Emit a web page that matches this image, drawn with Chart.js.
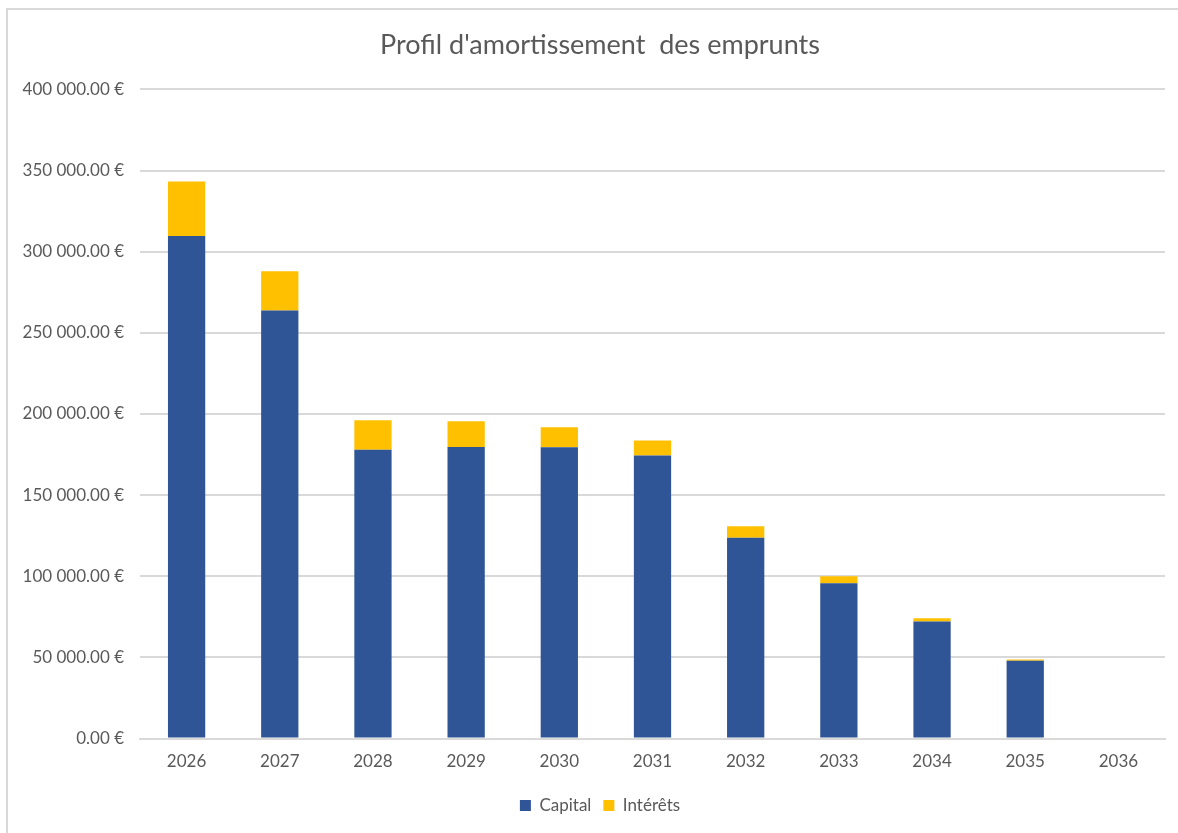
<!DOCTYPE html>
<html>
<head>
<meta charset="utf-8">
<script src="https://cdn.jsdelivr.net/npm/chart.js@4"></script>
<style>
  html, body { margin: 0; padding: 0; background: #fff; }
  #wrap { position: relative; width: 1178px; height: 833px; overflow: hidden; }
  #frame { position: absolute; left: 6px; top: 8px; width: 1300px; height: 900px;
           border-left: 2px solid #d9d9d9; border-top: 2px solid #d9d9d9; }
  canvas { position: absolute; left: 0; top: 0; }
</style>
</head>
<body>
<div id="wrap">
  <div id="frame"></div>
  <canvas id="c" width="1200" height="833"></canvas>
</div>
<script>
// Annual loan repayment schedule (EUR)
const years = ['2026', '2027', '2028', '2029', '2030', '2031', '2032', '2033', '2034', '2035', '2036'];
const capital = [309600, 263800, 177900, 179700, 179500, 174400, 123700, 95700, 72100, 47900, 0];
const interets = [33700, 24200, 18300, 15900, 12400, 9300, 7200, 4300, 2000, 800, 0];
const yTicks = [0, 50000, 100000, 150000, 200000, 250000, 300000, 350000, 400000];

const FONT = 'Lato, "Open Sans", sans-serif';
const GREY = '#595959';

function euro(v) {
  const parts = v.toFixed(2).split('.');
  const intPart = parts[0].replace(/\B(?=(\d{3})+(?!\d))/g, ' ');
  return intPart + '.' + parts[1] + ' €';
}

new Chart(document.getElementById('c'), {
  type: 'bar',
  data: {
    labels: years,
    datasets: [
      { label: 'Capital', data: capital, backgroundColor: '#2f5597',
        barPercentage: 0.4, categoryPercentage: 1.0 },
      { label: 'Intérêts', data: interets, backgroundColor: '#ffc000',
        barPercentage: 0.4, categoryPercentage: 1.0 }
    ]
  },
  options: {
    responsive: false,
    animation: false,
    layout: { padding: { left: 0, right: 0, top: 0, bottom: 9 } },
    plugins: {
      title: {
        display: true,
        text: "Profil d'amortissement  des emprunts",
        color: GREY,
        font: { family: FONT, size: 27, weight: 'normal' },
        padding: { top: 29, bottom: 28 }
      },
      legend: {
        position: 'bottom',
        labels: {
          color: GREY,
          font: { family: FONT, size: 17 },
          boxWidth: 11, boxHeight: 11,
          padding: 12
        }
      },
      tooltip: { enabled: false }
    },
    scales: {
      x: {
        stacked: true,
        grid: { display: false, drawTicks: false },
        border: { display: true, color: '#d9d9d9', width: 2 },
        ticks: { color: GREY, font: { family: FONT, size: 17 }, padding: 13 }
      },
      y: {
        stacked: true,
        min: 0, max: 400000,
        afterBuildTicks: (s) => { s.ticks = yTicks.map(v => ({ value: v })); },
        afterFit: (s) => { s.width = 140; },
        grid: { color: '#d9d9d9', lineWidth: 2, drawTicks: false },
        border: { display: false },
        ticks: { color: GREY, font: { family: FONT, size: 17 }, padding: 16,
                 callback: (v) => euro(v) }
      },
      // empty right-hand margin of the plot frame
      yRight: {
        position: 'right',
        min: 0, max: 400000,
        afterFit: (s) => { s.width = 35; },
        grid: { display: false, drawTicks: false },
        border: { display: false },
        ticks: { display: false }
      }
    }
  }
});
</script>
</body>
</html>
